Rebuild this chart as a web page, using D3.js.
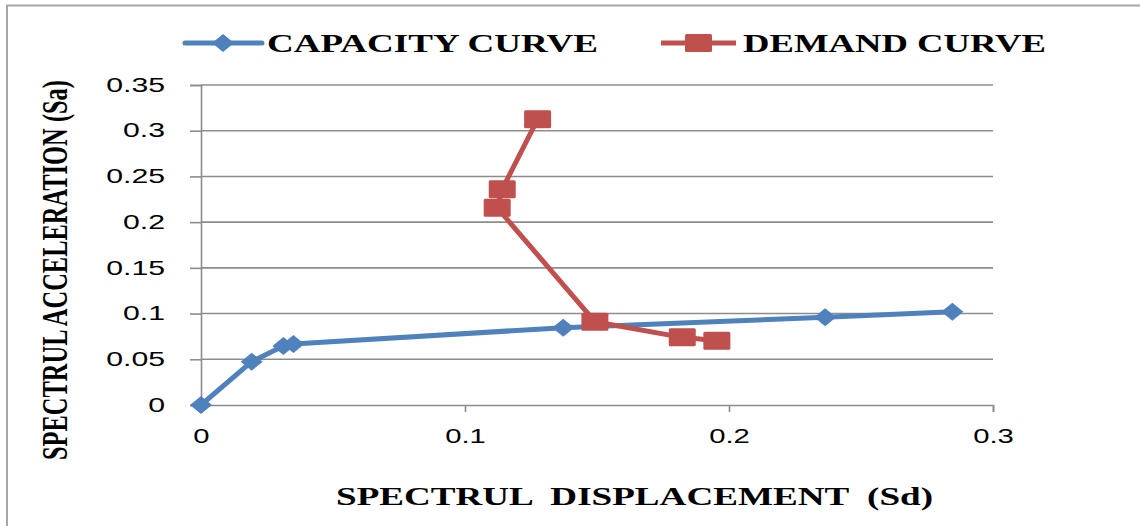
<!DOCTYPE html>
<html>
<head>
<meta charset="utf-8">
<script src="https://cdn.jsdelivr.net/npm/d3@7"></script>
<style>
  html, body { margin: 0; padding: 0; background: #fff; }
  svg { display: block; }
</style>
</head>
<body>
<svg id="chart" width="1140" height="526"></svg>
<script>
// Capacity curve (spectral displacement vs spectral acceleration)
const capacitySd = [0, 0.0192, 0.0312, 0.035, 0.1372, 0.2364, 0.2846];
const capacitySa = [0, 0.0474, 0.0645, 0.0667, 0.0846, 0.0959, 0.102];

// Demand curve
const demandSd = [0.1275, 0.1141, 0.1122, 0.1492, 0.1823, 0.1954];
const demandSa = [0.3125, 0.236, 0.2158, 0.0911, 0.074, 0.0703];

const xTicks = [0, 0.1, 0.2, 0.3];
const yTicks = [0, 0.05, 0.1, 0.15, 0.2, 0.25, 0.3, 0.35];

const seriesNames = ["CAPACITY CURVE", "DEMAND CURVE"];
const xTitle = "SPECTRUL  DISPLACEMENT  (Sd)";
const yTitle = "SPECTRUL ACCELERATION (Sa)";

const blue = "#4F81BD", red = "#C0504D", gridColor = "#8c8c8c";

const svg = d3.select("#chart");

// outer frame (left and top edges)
svg.append("path")
  .attr("d", "M7,526 V5.5 H1140")
  .attr("fill", "none").attr("stroke", "#a6a6a6").attr("stroke-width", 2);

const x = d3.scaleLinear().domain([0, 0.3]).range([201, 993]);
const y = d3.scaleLinear().domain([0, 0.35]).range([405, 85]);

// horizontal gridlines
svg.append("g").selectAll("line").data(yTicks.filter(d => d > 0)).join("line")
  .attr("x1", 201).attr("x2", 993)
  .attr("y1", d => y(d)).attr("y2", d => y(d))
  .attr("stroke", gridColor).attr("stroke-width", 1.6);

const stretchText = (sel, factor) => sel.each(function () {
  const w = this.getComputedTextLength();
  d3.select(this).attr("textLength", w * factor).attr("lengthAdjust", "spacingAndGlyphs");
});

const tickFont = "Liberation Sans, Arial, sans-serif";

// y axis
const yAxis = svg.append("g").attr("transform", "translate(201,0)")
  .call(d3.axisLeft(y).tickValues(yTicks).tickSize(11).tickPadding(25)
    .tickFormat(d => d3.format("")(+d.toFixed(2))));
yAxis.select(".domain").attr("stroke", gridColor).attr("stroke-width", 1.6);
yAxis.selectAll(".tick line").attr("stroke", gridColor).attr("stroke-width", 1.6);
yAxis.selectAll(".tick text")
  .attr("font-family", tickFont)
  .attr("font-size", 19.5).attr("fill", "#000")
  .call(stretchText, 1.55);

// x axis
const xAxis = svg.append("g").attr("transform", "translate(0,405)")
  .call(d3.axisBottom(x).tickValues(xTicks).tickSize(7).tickPadding(17)
    .tickFormat(d => d3.format("")(+d.toFixed(2))));
xAxis.select(".domain").attr("stroke", gridColor).attr("stroke-width", 1.6);
xAxis.selectAll(".tick line").attr("stroke", gridColor).attr("stroke-width", 1.6);
xAxis.selectAll(".tick text")
  .attr("font-family", tickFont)
  .attr("font-size", 19.5).attr("fill", "#000")
  .call(stretchText, 1.5);

const line = d3.line().x(d => x(d[0])).y(d => y(d[1]));
const capacity = capacitySd.map((d, i) => [d, capacitySa[i]]);
const demand = demandSd.map((d, i) => [d, demandSa[i]]);

const diamond = (cx, cy) => `M${cx - 11},${cy} L${cx},${cy - 9} L${cx + 11},${cy} L${cx},${cy + 9} Z`;

// capacity series
svg.append("path").datum(capacity).attr("d", line)
  .attr("fill", "none").attr("stroke", blue).attr("stroke-width", 5)
  .attr("stroke-linejoin", "round");
svg.append("g").selectAll("path").data(capacity).join("path")
  .attr("d", d => diamond(x(d[0]), y(d[1]))).attr("fill", blue);

// demand series
svg.append("path").datum(demand).attr("d", line)
  .attr("fill", "none").attr("stroke", red).attr("stroke-width", 5)
  .attr("stroke-linejoin", "round");
svg.append("g").selectAll("rect").data(demand).join("rect")
  .attr("x", d => x(d[0]) - 13.5).attr("y", d => y(d[1]) - 9)
  .attr("width", 27).attr("height", 18).attr("rx", 1.5)
  .attr("fill", red);

// legend
const serif = "Liberation Serif, 'Times New Roman', serif";
const legend = svg.append("g");
// capacity entry
legend.append("line").attr("x1", 185).attr("x2", 262).attr("y1", 43).attr("y2", 43)
  .attr("stroke", blue).attr("stroke-width", 5).attr("stroke-linecap", "round");
legend.append("path").attr("d", diamond(223, 43)).attr("fill", blue);
legend.append("text").attr("x", 267).attr("y", 52).text(seriesNames[0])
  .attr("font-family", serif).attr("font-weight", "bold").attr("font-size", 26)
  .attr("textLength", 331).attr("lengthAdjust", "spacingAndGlyphs");
// demand entry
legend.append("line").attr("x1", 661).attr("x2", 736).attr("y1", 43).attr("y2", 43)
  .attr("stroke", red).attr("stroke-width", 5);
legend.append("rect").attr("x", 685).attr("y", 34).attr("width", 27).attr("height", 18)
  .attr("rx", 1.5).attr("fill", red);
legend.append("text").attr("x", 743).attr("y", 52).text(seriesNames[1])
  .attr("font-family", serif).attr("font-weight", "bold").attr("font-size", 26)
  .attr("textLength", 303).attr("lengthAdjust", "spacingAndGlyphs");

// axis titles
svg.append("text").attr("x", 336).attr("y", 505).text(xTitle)
  .attr("font-family", serif).attr("font-weight", "bold").attr("font-size", 25)
  .attr("xml:space", "preserve").style("white-space", "pre")
  .attr("textLength", 597).attr("lengthAdjust", "spacingAndGlyphs");

// vertical title: narrow glyphs stretched across the baseline direction
svg.append("text")
  .attr("transform", "translate(67,460) rotate(-90) scale(1,1.6)")
  .text(yTitle)
  .attr("font-family", serif).attr("font-weight", "bold").attr("font-size", 22)
  .attr("textLength", 380).attr("lengthAdjust", "spacingAndGlyphs");
</script>
</body>
</html>
